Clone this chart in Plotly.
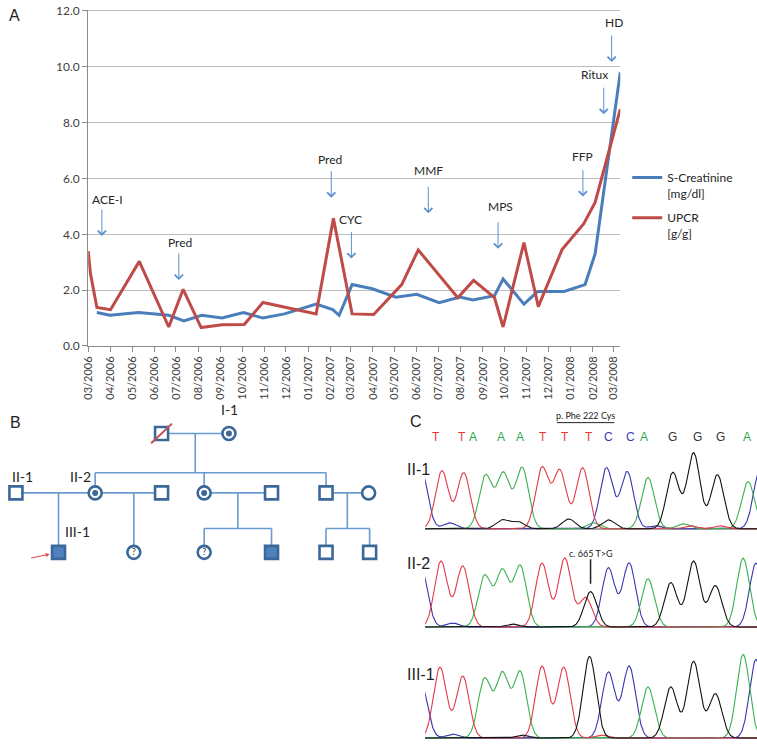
import numpy as np
import plotly.graph_objects as go

W, H = 757, 748
FONT = "Lato"

# ---------------- A: clinical course ----------------
creat_dates = ["2006-03-13", "2006-03-31", "2006-05-10", "2006-06-21", "2006-07-12",
               "2006-08-06", "2006-09-03", "2006-10-03", "2006-10-30", "2006-11-29",
               "2007-01-12", "2007-02-04", "2007-02-13", "2007-03-03", "2007-03-31",
               "2007-05-03", "2007-06-01", "2007-07-02", "2007-07-31", "2007-08-18",
               "2007-09-17", "2007-09-29", "2007-10-28", "2007-11-16", "2007-12-23",
               "2008-01-21", "2008-02-04", "2008-03-10"]
creat_vals = [1.2, 1.1, 1.2, 1.1, 0.9, 1.1, 1.0, 1.2, 1.0, 1.15, 1.5, 1.3, 1.1, 2.2, 2.05,
              1.75, 1.85, 1.55, 1.75, 1.65, 1.8, 2.4, 1.5, 1.95, 1.95, 2.2, 3.3, 9.8]

upcr_dates = ["2006-03-01", "2006-03-04", "2006-03-13", "2006-04-01", "2006-05-11",
              "2006-06-21", "2006-07-11", "2006-08-05", "2006-09-03", "2006-10-04",
              "2006-10-30", "2007-01-12", "2007-02-05", "2007-03-03", "2007-04-02",
              "2007-05-11", "2007-06-03", "2007-07-01", "2007-07-28", "2007-08-19",
              "2007-09-17", "2007-09-29", "2007-10-28", "2007-11-17", "2007-12-20",
              "2008-01-19", "2008-02-04", "2008-03-10"]
upcr_vals = [3.4, 2.6, 1.38, 1.3, 3.03, 0.68, 2.03, 0.66, 0.76, 0.77, 1.56, 1.15, 4.57,
             1.15, 1.13, 2.2, 3.44, 2.56, 1.73, 2.35, 1.73, 0.68, 3.7, 1.41, 3.45, 4.37,
             5.14, 8.48]

event_names = ["ACE-I", "Pred", "Pred", "CYC", "MMF", "MPS", "FFP", "Ritux", "HD"]
event_dates = ["2006-03-20", "2006-07-05", "2007-02-02", "2007-03-02", "2007-06-17",
               "2007-09-22", "2008-01-18", "2008-02-16", "2008-02-27"]
event_tips = [3.94, 2.36, 5.31, 3.13, 4.75, 3.48, 5.35, 8.30, 10.17]

# ---------------- B: pedigree ----------------
ped_gen = [1, 1, 2, 2, 2, 2, 2, 2, 2, 3, 3, 3, 3, 3, 3]
ped_x = [156, 224, 9, 89, 156, 199, 267, 322, 365, 52, 128, 199, 267, 322, 366]
ped_sex = ["M", "F", "M", "F", "M", "F", "M", "M", "F", "M", "F", "F", "M", "M", "M"]
ped_status = ["deceased", "carrier", "normal", "carrier", "normal", "carrier", "normal",
              "normal", "normal", "affected", "unknown", "unknown", "affected", "normal", "normal"]
ped_label = ["", "I-1", "II-1", "II-2", "", "", "", "", "", "III-1", "", "", "", "", ""]
couples = [(0, 1), (2, 3), (3, 4), (5, 6), (7, 8)]
children = [[3, 5, 7], [9], [10], [11, 12], [13, 14]]
proband = 9

# ---------------- C: chromatograms ----------------
bases = list("TTAAATTTCCAGGGA")
base_pos = [433, 459, 470, 499, 518, 541, 563, 587, 607, 629, 643, 672, 697, 720, 747]
base_col = {"T": "#e8343a", "A": "#2aa84a", "C": "#3a3ab8", "G": "#333333"}

# peaks: (scan position, signal height)
chrom_II1 = {
    "T": [(439, 59), (461, 57), (540, 62), (558, 59), (581, 62), (690, 3), (720, 3)],
    "A": [(483, 54), (501, 56), (520, 62), (647, 52), (748, 48), (592, 6), (683, 5)],
    "C": [(418, 60), (447, 6), (605, 62), (626, 58), (655, 3), (760, 60)],
    "G": [(500, 9), (516, 7), (567, 10), (607, 9), (672, 57), (693, 77), (717, 55)],
}
chrom_II2 = {
    "T": [(438, 67), (460, 62), (540, 65), (563, 70), (584, 30)],
    "A": [(482, 52), (500, 57), (518, 62), (647, 49), (743, 70)],
    "C": [(418, 60), (450, 4), (607, 60), (628, 65), (756, 65)],
    "G": [(510, 3), (589, 36), (670, 45), (693, 67), (715, 42)],
}
chrom_III1 = {
    "T": [(437, 72), (460, 63), (540, 73), (562, 72), (600, 3)],
    "A": [(482, 60), (500, 65), (518, 67), (647, 52), (743, 85)],
    "C": [(418, 55), (450, 4), (607, 67), (628, 73), (756, 80)],
    "G": [(520, 3), (588, 83), (670, 52), (693, 78), (715, 45)],
}
chrom_samples = ["II-1", "II-2", "III-1"]
chrom_data = [chrom_II1, chrom_II2, chrom_III1]
trace_col = {"T": "#e03a48", "A": "#3cb04e", "C": "#3636b0", "G": "#111111"}


def px(x):
    return x / W


def py(y):
    return 1 - y / H


fig = go.Figure()

# ---- panel A lines
fig.add_trace(go.Scatter(x=creat_dates, y=creat_vals, mode="lines",
                         name="S-Creatinine<br>[mg/dl]", legendgroup="a",
                         line=dict(color="#4a7ebb", width=3), xaxis="x", yaxis="y"))
fig.add_trace(go.Scatter(x=upcr_dates, y=upcr_vals, mode="lines",
                         name="UPCR<br>[g/g]", legendgroup="b",
                         line=dict(color="#be4b48", width=3), xaxis="x", yaxis="y"))

annotations = []
label_dx = [6, 1, -1, -1, 0, 2, 0, -9, 2]
label_dy = [36, 38, 38, 39, 43, 42, 40, 40, 40]
for name, d, v, dx, dy in zip(event_names, event_dates, event_tips, label_dx, label_dy):
    annotations.append(dict(x=d, y=v, xref="x", yref="y", text="", showarrow=True,
                            ax=0, ay=-28, arrowhead=4, arrowsize=1.6, arrowwidth=1,
                            arrowcolor="#5b8fcf"))
    annotations.append(dict(x=d, y=v, xref="x", yref="y", text=name, showarrow=False,
                            xshift=dx, yshift=dy, xanchor="center", yanchor="middle",
                            font=dict(family=FONT, size=12, color="#262626")))

# ---- panel B pedigree
line_col = "#6a9ad2"
sym_col = "#3b6899"
lx, ly = [], []
for (a, b), kids in zip(couples, children):
    g = ped_gen[a]
    lx += [ped_x[a], ped_x[b], None]
    ly += [g, g, None]
    if len(kids) == 1:
        k = kids[0]
        lx += [ped_x[k], ped_x[k], None]
        ly += [g, ped_gen[k], None]
    else:
        mid = (ped_x[a] + ped_x[b]) / 2
        bar = g + (0.66 if g == 1 else 0.6)
        lx += [mid, mid, None, min(ped_x[k] for k in kids), max(ped_x[k] for k in kids), None]
        ly += [g, bar, None, bar, bar, None]
        for k in kids:
            lx += [ped_x[k], ped_x[k], None]
            ly += [bar, ped_gen[k], None]
fig.add_trace(go.Scatter(x=lx, y=ly, mode="lines", line=dict(color=line_col, width=1.6),
                         showlegend=False, hoverinfo="skip", xaxis="x2", yaxis="y2"))

for sex, sym in (("M", "square"), ("F", "circle")):
    idx = [i for i in range(len(ped_x)) if ped_sex[i] == sex]
    fig.add_trace(go.Scatter(
        x=[ped_x[i] for i in idx], y=[ped_gen[i] for i in idx], mode="markers+text",
        marker=dict(symbol=sym, size=13,
                    color=["#4f81bd" if ped_status[i] == "affected" else "white" for i in idx],
                    line=dict(color=sym_col, width=2.6)),
        text=["?" if ped_status[i] == "unknown" else "" for i in idx],
        textposition="middle center", textfont=dict(family=FONT, size=9, color="#333333"),
        showlegend=False, hoverinfo="skip", xaxis="x2", yaxis="y2"))

car = [i for i in range(len(ped_x)) if ped_status[i] == "carrier"]
fig.add_trace(go.Scatter(x=[ped_x[i] for i in car], y=[ped_gen[i] for i in car], mode="markers",
                         marker=dict(symbol="circle", size=6, color=sym_col),
                         showlegend=False, hoverinfo="skip", xaxis="x2", yaxis="y2"))

dec = [i for i in range(len(ped_x)) if ped_status[i] == "deceased"]
for i in dec:
    fig.add_trace(go.Scatter(x=[ped_x[i] - 10.5, ped_x[i] + 10.5],
                             y=[ped_gen[i] + 0.165, ped_gen[i] - 0.165], mode="lines",
                             line=dict(color="#c0504d", width=2),
                             showlegend=False, hoverinfo="skip", xaxis="x2", yaxis="y2"))

for i, lab in enumerate(ped_label):
    if not lab:
        continue
    if ped_gen[i] == 1:
        sx, sy = 1, 24
    elif ped_gen[i] == 2:
        sx, sy = (7 if i == 2 else -15), 16
    else:
        sx, sy = 19, 21
    annotations.append(dict(x=ped_x[i], y=ped_gen[i], xref="x2", yref="y2", text=lab,
                            showarrow=False, xshift=sx, yshift=sy,
                            xanchor="center", yanchor="middle",
                            font=dict(family=FONT, size=14, color="#262626")))
annotations.append(dict(x=ped_x[proband], y=ped_gen[proband], xref="x2", yref="y2", text="",
                        showarrow=True, ax=-29, ay=6, standoff=9, arrowhead=2, arrowsize=0.8,
                        arrowwidth=1, arrowcolor="#e04848"))

# ---- panel C chromatograms
xs = np.arange(420, 760, 0.5)
sigma = 6.5
baselines = [532, 632, 745]
label_y = [472, 567, 680]
for n, (sample, peaks, yb) in enumerate(zip(chrom_samples, chrom_data, baselines)):
    ax_id = n + 3
    for base in ("C", "A", "T", "G"):
        sig = np.zeros_like(xs)
        for p, h in peaks[base]:
            sig += h * np.exp(-(xs - p) ** 2 / (2 * sigma ** 2))
        fig.add_trace(go.Scatter(x=xs, y=sig, mode="lines",
                                 line=dict(color=trace_col[base], width=1.1),
                                 showlegend=False, hoverinfo="skip",
                                 xaxis=f"x{ax_id}", yaxis=f"y{ax_id}"))
    annotations.append(dict(x=px(402), y=py(label_y[n]), xref="paper", yref="paper",
                            text=sample, showarrow=False, xanchor="left", yanchor="middle",
                            font=dict(family="Liberation Sans", size=16, color="#222222")))

for b, p in zip(bases, base_pos):
    annotations.append(dict(x=p, y=py(439), xref="x3", yref="paper", text=b, showarrow=False,
                            xanchor="center", yanchor="middle",
                            font=dict(family="Liberation Sans", size=12, color=base_col[b])))

annotations.append(dict(x=584, y=py(417), xref="x3", yref="paper", text="p. Phe 222 Cys",
                        showarrow=False, xanchor="center", yanchor="middle",
                        font=dict(family=FONT, size=9, color="#222222")))
annotations.append(dict(x=589, y=75, xref="x4", yref="y4", text="c. 665 T>G",
                        showarrow=False, font=dict(family=FONT, size=9, color="#222222")))
annotations.append(dict(x=589, y=92, xref="x5", yref="y5", text="c. 665 T>G",
                        showarrow=False, font=dict(family=FONT, size=9, color="#222222")))

shapes = [
    dict(type="line", xref="x3", yref="paper", x0=555, x1=613, y0=py(424), y1=py(424),
         line=dict(color="#222222", width=1)),
    dict(type="line", xref="x4", yref="y4", x0=589, x1=589, y0=44, y1=69,
         line=dict(color="#222222", width=1.5)),
]

for lab, x, y in (("A", 8, 10), ("B", 9, 424), ("C", 413, 423)):
    annotations.append(dict(x=px(x), y=py(y), xref="paper", yref="paper", text=lab,
                            showarrow=False, xanchor="center", yanchor="middle",
                            font=dict(family="Liberation Sans", size=16, color="#222222")))

layout_axes = dict(
    xaxis=dict(domain=[px(82), px(619)], type="date", range=["2006-03-01", "2008-03-10"],
               tick0="2006-03-01", dtick="M1", tickformat="%m/%Y", tickangle=-90,
               ticks="outside", ticklen=5, tickcolor="#8c8c8c", showline=True,
               linecolor="#8c8c8c", linewidth=1, showgrid=False, anchor="y",
               tickfont=dict(family=FONT, size=11, color="#404040")),
    yaxis=dict(domain=[py(346), py(3.58)], range=[0, 12.05], tick0=0, dtick=2, tickformat=".1f",
               showgrid=True, gridcolor="#bdbdbd", gridwidth=1, showline=True,
               linecolor="#8c8c8c", ticks="outside", ticklen=5, tickcolor="#8c8c8c",
               ticklabeloverflow="allow",
               zeroline=False, anchor="x", tickfont=dict(family=FONT, size=12, color="#404040")),
    xaxis2=dict(domain=[0, px(400)], range=[0, 400], visible=False, anchor="y2"),
    yaxis2=dict(domain=[py(605), py(405)], range=[3.81, 0.504], visible=False, anchor="x2"),
)
for n, yb in enumerate(baselines):
    i = n + 3
    layout_axes[f"xaxis{i}"] = dict(domain=[px(422), 1], range=[422, 757], visible=False,
                                    anchor=f"y{i}")
    layout_axes[f"yaxis{i}"] = dict(domain=[max(0, py(yb + 3)), py(yb - 90)], range=[-3, 90],
                                    showgrid=False, showticklabels=False, ticks="",
                                    showline=False, zeroline=True, zerolinecolor="#a6a6a6",
                                    zerolinewidth=2, anchor=f"x{i}")

fig.update_layout(
    width=W, height=H, margin=dict(l=0, r=0, t=0, b=0),
    paper_bgcolor="white", plot_bgcolor="white",
    font=dict(family=FONT, color="#262626"),
    legend=dict(x=px(626), y=py(160), xanchor="left", yanchor="top", valign="top",
                font=dict(family=FONT, size=12, color="#262626"), itemwidth=30,
                tracegroupgap=6, bgcolor="rgba(0,0,0,0)"),
    annotations=annotations, shapes=shapes,
    **layout_axes,
)

# the default page has an 8px body margin; remove it so the figure sits at the window origin
fig.write_html("out.html", config={"displayModeBar": False},
               post_script="document.body.style.margin='0px';")
